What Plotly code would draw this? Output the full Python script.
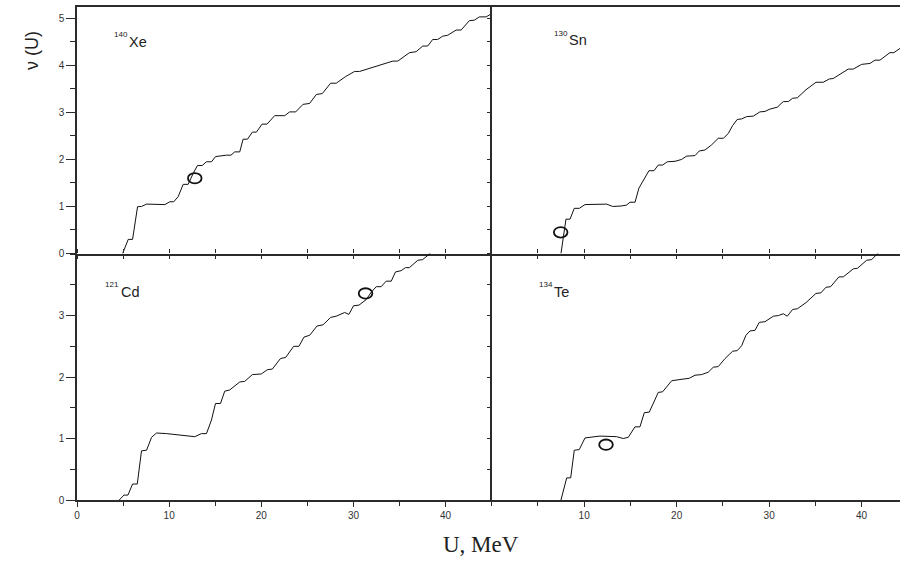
import plotly.graph_objects as go

# ---------------- data ----------------
xe_u = [4.95, 5.56, 6.03, 6.57, 7.0, 7.55, 9.53, 10.08, 10.5, 10.98, 11.52, 12.06, 12.6, 13.07, 13.58,
        14.05, 14.6, 15.03, 16.22, 16.7, 17.12, 17.66, 18.02, 18.5, 19.03, 19.47, 20.08, 20.62, 21.45,
        22.54, 23.08, 23.73, 24.52, 25.24, 25.97, 26.62, 27.52, 28.13, 29.14, 30.12, 30.66, 31.93,
        33.01, 34.27, 34.81, 36.08, 36.8, 37.52, 38.06, 38.6, 39.14, 39.69, 40.23, 41.14, 41.68,
        42.58, 43.12, 43.66, 44.4, 45.0]
xe_nu = [0.0, 0.30, 0.30, 0.995, 1.0, 1.05, 1.04, 1.10, 1.10, 1.21, 1.47, 1.47, 1.70, 1.87, 1.87,
         1.95, 1.95, 2.06, 2.09, 2.09, 2.16, 2.16, 2.43, 2.43, 2.58, 2.58, 2.75, 2.75, 2.93,
         2.93, 3.01, 3.01, 3.17, 3.19, 3.38, 3.40, 3.62, 3.62, 3.76, 3.87, 3.87, 3.95,
         4.01, 4.09, 4.09, 4.27, 4.29, 4.41, 4.41, 4.55, 4.55, 4.62, 4.64, 4.75, 4.75,
         4.95, 4.96, 5.03, 5.03, 5.10]

sn_u = [7.49, 7.75, 8.03, 8.47, 8.93, 9.47, 10.09, 12.43, 13.08, 14.0, 14.59, 14.95, 15.5, 15.92,
        16.46, 17.0, 17.55, 18.01, 18.48, 18.99, 19.82, 20.54, 21.08, 21.98, 22.45, 23.06, 23.78,
        24.5, 25.05, 25.58, 26.05, 26.55, 27.02, 27.57, 28.29, 29.0, 29.55, 30.09, 30.88, 31.53,
        32.07, 32.54, 33.05, 33.98, 35.06, 35.85, 36.5, 36.93, 38.55, 39.09, 40.0, 40.9, 41.44,
        41.98, 43.06, 43.49, 44.15]
sn_nu = [0.0, 0.40, 0.73, 0.73, 0.96, 0.96, 1.04, 1.05, 1.00, 1.01, 1.03, 1.09, 1.09, 1.39,
         1.56, 1.76, 1.76, 1.88, 1.88, 1.95, 1.96, 2.00, 2.07, 2.08, 2.18, 2.20, 2.31,
         2.45, 2.45, 2.55, 2.72, 2.85, 2.86, 2.91, 2.92, 3.01, 3.02, 3.07, 3.11, 3.23,
         3.23, 3.30, 3.31, 3.48, 3.64, 3.64, 3.71, 3.72, 3.92, 3.92, 4.02, 4.04, 4.11,
         4.11, 4.27, 4.27, 4.36]

cd_u = [4.59, 5.09, 5.53, 6.03, 6.54, 7.0, 7.55, 8.09, 8.63, 9.72, 12.78, 13.5, 14.05, 14.59, 15.03,
        15.57, 16.03, 16.57, 17.66, 18.2, 19.03, 20.0, 20.66, 21.2, 22.07, 22.65, 23.51, 24.08,
        24.63, 25.25, 26.04, 26.7, 27.52, 28.13, 29.04, 29.5, 30.01, 30.6, 31.38, 31.93, 32.47,
        33.0, 33.55, 34.1, 34.56, 35.17, 35.64, 36.07, 36.98, 37.5, 38.24, 38.6]
cd_nu = [0.0, 0.08, 0.08, 0.26, 0.26, 0.80, 0.81, 1.02, 1.09, 1.08, 1.03, 1.08, 1.08, 1.30, 1.57,
         1.57, 1.77, 1.79, 1.92, 1.93, 2.04, 2.05, 2.12, 2.13, 2.30, 2.32, 2.50, 2.50,
         2.65, 2.68, 2.83, 2.85, 2.97, 2.99, 3.05, 3.02, 3.16, 3.17, 3.26, 3.38, 3.47,
         3.47, 3.56, 3.56, 3.71, 3.73, 3.78, 3.78, 3.90, 3.91, 4.00, 4.07]

te_u = [7.49, 8.11, 8.54, 8.93, 9.47, 10.09, 10.63, 11.71, 13.51, 14.23, 14.77, 15.49, 16.03, 16.5,
        17.04, 17.47, 18.01, 18.48, 19.46, 20.36, 21.36, 21.98, 22.7, 23.42, 23.96, 24.5, 25.22,
        26.05, 26.55, 27.03, 27.49, 27.93, 28.47, 28.93, 29.55, 30.45, 30.99, 31.53, 31.96, 32.54,
        33.05, 33.98, 35.06, 35.6, 36.14, 36.65, 37.55, 38.02, 39.1, 39.56, 40.54, 41.08, 41.62, 42.2]
te_nu = [0.0, 0.36, 0.36, 0.81, 0.82, 1.01, 1.02, 1.04, 1.03, 1.00, 1.02, 1.19, 1.19, 1.42,
         1.43, 1.57, 1.75, 1.76, 1.94, 1.96, 1.98, 2.03, 2.04, 2.08, 2.16, 2.17, 2.30,
         2.42, 2.43, 2.51, 2.68, 2.75, 2.76, 2.89, 2.90, 2.99, 3.00, 3.03, 2.99, 3.10,
         3.11, 3.21, 3.36, 3.37, 3.46, 3.47, 3.63, 3.63, 3.76, 3.77, 3.90, 3.91, 4.00, 4.08]

# open-circle markers (U, nu) for each panel: Xe, Sn, Cd, Te
circle_u = [12.78, 7.46, 31.31, 12.36]
circle_nu = [1.60, 0.45, 3.36, 0.90]

nuclide_mass = ["140", "130", "121", "134"]
nuclide_sym = ["Xe", "Sn", "Cd", "Te"]

x_title = "U, MeV"
y_title = "ν (U)"

# ---------------- figure ----------------
W, H = 900, 561
ML, MR, MT, MB = 77, 0, 7, 61
PW, PH = W - ML - MR, H - MT - MB
split = (491.7 - ML) / PW

AX = "#2b2b2b"
tickfont = dict(family="Liberation Sans, Arial, sans-serif", size=10, color="#333333")

fig = go.Figure()
series = [(xe_u, xe_nu, "x", "y"), (sn_u, sn_nu, "x2", "y2"),
          (cd_u, cd_nu, "x3", "y3"), (te_u, te_nu, "x4", "y4")]
for u, nu, xa, ya in series:
    fig.add_trace(go.Scatter(x=u, y=nu, xaxis=xa, yaxis=ya, mode="lines",
                             line=dict(color="#111111", width=1), hoverinfo="skip",
                             showlegend=False))
# empty traces so the tick-only overlay axes get drawn
for xa, ya in [("x5", "y3"), ("x6", "y4")]:
    fig.add_trace(go.Scatter(x=[], y=[], xaxis=xa, yaxis=ya, mode="lines",
                             hoverinfo="skip", showlegend=False))

common = dict(showgrid=False, zeroline=False, showline=True, linecolor=AX, linewidth=1.5,
              tickcolor=AX, tickwidth=1.2, tickfont=tickfont, fixedrange=True)

xr_left = [0, 45]
xr_right = [0, 44.15]
yr_top = [0, 5.24]
yr_bot = [0, 4.01]

fig.update_layout(
    width=W, height=H, margin=dict(l=ML, r=MR, t=MT, b=MB),
    paper_bgcolor="white", plot_bgcolor="white", showlegend=False,
    # top-left
    xaxis=dict(common, domain=[0, split], range=xr_left, anchor="y", mirror=True,
               ticks="outside", ticklen=4, dtick=10, tick0=0, showticklabels=False,
               minor=dict(dtick=5, tick0=0, ticks="outside", ticklen=4, tickcolor=AX)),
    yaxis=dict(common, domain=[0.5, 1], range=yr_top, anchor="x",
               ticks="outside", ticklen=9, dtick=1, tick0=0,
               minor=dict(dtick=0.5, tick0=0, ticks="outside", ticklen=5, tickcolor=AX)),
    # top-right
    xaxis2=dict(common, domain=[split, 1], range=xr_right, anchor="y2", mirror=True,
                ticks="outside", ticklen=4, dtick=5, tick0=0, showticklabels=False),
    yaxis2=dict(common, domain=[0.5, 1], range=yr_top, anchor="x2",
                ticks="outside", ticklen=3, dtick=0.5, tick0=0, showticklabels=False),
    # bottom-left
    xaxis3=dict(common, domain=[0, split], range=xr_left, anchor="y3",
                ticks="outside", ticklen=5, dtick=10, tick0=0,
                minor=dict(dtick=5, tick0=0, ticks="outside", ticklen=4, tickcolor=AX)),
    yaxis3=dict(common, domain=[0, 0.5], range=yr_bot, anchor="x3",
                ticks="outside", ticklen=9, tickmode="array", tickvals=[0, 1, 2, 3],
                minor=dict(dtick=0.5, tick0=0, ticks="outside", ticklen=5, tickcolor=AX)),
    # bottom-right
    xaxis4=dict(common, domain=[split, 1], range=xr_right, anchor="y4",
                ticks="outside", ticklen=5, tickmode="array", tickvals=[10, 20, 30, 40],
                minor=dict(tickmode="array", tickvals=[0, 5, 15, 25, 35], ticks="outside",
                           ticklen=4, tickcolor=AX)),
    yaxis4=dict(common, domain=[0, 0.5], range=yr_bot, anchor="x4",
                ticks="outside", ticklen=3, dtick=0.5, tick0=0, showticklabels=False),
    # tick-only overlays: upward ticks on the top edge of the bottom panels
    xaxis5=dict(overlaying="x3", anchor="y3", side="top", range=xr_left, showline=False,
                showgrid=False, zeroline=False, ticks="outside", ticklen=4, tickwidth=1.2,
                tickcolor=AX, dtick=5, tick0=0, showticklabels=False, fixedrange=True),
    xaxis6=dict(overlaying="x4", anchor="y4", side="top", range=xr_right, showline=False,
                showgrid=False, zeroline=False, ticks="outside", ticklen=4, tickwidth=1.2,
                tickcolor=AX, dtick=5, tick0=0, showticklabels=False, fixedrange=True),
)

# open ellipses
axpairs = [("x", "y"), ("x2", "y2"), ("x3", "y3"), ("x4", "y4")]
for (xa, ya), cu, cn in zip(axpairs, circle_u, circle_nu):
    fig.add_shape(type="circle", xref=xa, yref=ya, xsizemode="pixel", ysizemode="pixel",
                  xanchor=cu, yanchor=cn, x0=-6.8, x1=6.8, y0=-5.2, y1=5.2,
                  line=dict(color="#111111", width=1.8), fillcolor="rgba(0,0,0,0)")


def px2paper(px, py):
    return (px - ML) / PW, (H - MB - py) / PH


# nuclide labels: (left edge of mass number, vertical centre of symbol) in pixels
label_pos = [(111.5, 42.0), (551.7, 40.5), (103.3, 291.5), (536.7, 291.5)]
for (lx, ly), m, s in zip(label_pos, nuclide_mass, nuclide_sym):
    ax_, ay_ = px2paper(lx, ly - 7.5)
    fig.add_annotation(x=ax_, y=ay_, xref="paper", yref="paper", xanchor="left",
                       yanchor="middle", showarrow=False, text=m,
                       font=dict(family="Liberation Sans, Arial", size=8, color="#222222"))
    bx, by = px2paper(lx + 15.2, ly)
    fig.add_annotation(x=bx, y=by, xref="paper", yref="paper", xanchor="left",
                       yanchor="middle", showarrow=False, text=s,
                       font=dict(family="Liberation Sans, Arial", size=14.5, color="#222222"))

# axis titles
tx, ty = px2paper(32, 51)
fig.add_annotation(x=tx, y=ty, xref="paper", yref="paper", showarrow=False, textangle=-90,
                   text=y_title, xanchor="center", yanchor="middle",
                   font=dict(family="Liberation Sans, Arial", size=18, color="#222222"))
tx, ty = px2paper(481, 544)
fig.add_annotation(x=tx, y=ty, xref="paper", yref="paper", showarrow=False,
                   text=x_title, xanchor="center", yanchor="middle",
                   font=dict(family="Liberation Serif, Times New Roman", size=23, color="#222222"))

fig.write_html("out.html")
